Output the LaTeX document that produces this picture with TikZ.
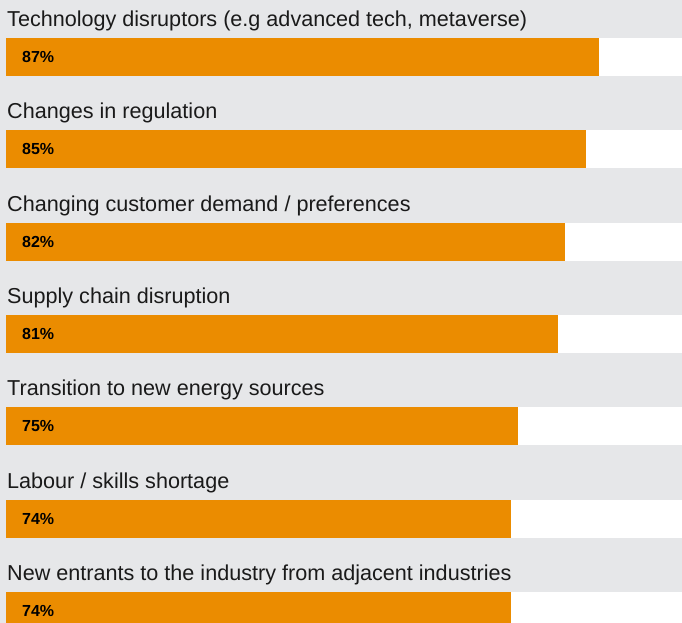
\documentclass[tikz,border=0pt]{standalone}
\usepackage{fontspec}
\setmainfont{Liberation Sans}
\usepackage{tikz}
\usetikzlibrary{calc}
\definecolor{bggray}{HTML}{E6E7E9}
\definecolor{pwcorange}{HTML}{EB8C00}
\definecolor{labeltext}{HTML}{1A1A1A}
\newcommand{\statbar}[3]{
  \fill[pwcorange] (6, #1*92.33+38) rectangle (6+#2*6.82, #1*92.33+76);
  \node[anchor=base west, inner sep=0pt, text=labeltext, font=\fontsize{21.6}{26}\selectfont] (label#1) at (7, #1*92.33+26.5) {#3};
  \node[anchor=base west, inner sep=0pt, text=black, font=\fontsize{16}{19}\selectfont\bfseries] (pct#1) at (22, #1*92.33+62.5) {#2\%};
}

\begin{document}
\begin{tikzpicture}[x=1pt, y=-1pt]
      \fill[bggray] (0,0) rectangle (682,623);
      \useasboundingbox (0,0) rectangle (682,623);
      \foreach \i in {0,1,...,6} {
        \fill[white] (6,\i*92.33+38) rectangle (682,\i*92.33+76);
      }

      \statbar{0}{87}{Technology disruptors (e.g advanced tech, metaverse)}
      \statbar{1}{85}{Changes in regulation}
      \statbar{2}{82}{Changing customer demand / preferences}
      \statbar{3}{81}{Supply chain disruption}
      \statbar{4}{75}{Transition to new energy sources}
      \statbar{5}{74}{Labour / skills shortage}
      \statbar{6}{74}{New entrants to the industry from adjacent industries}
\end{tikzpicture}
\end{document}
